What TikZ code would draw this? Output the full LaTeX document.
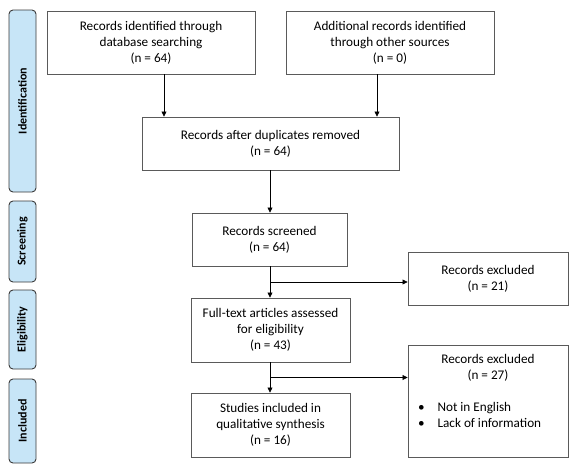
\documentclass[tikz,border=0pt]{standalone}
\usepackage{fontspec}
\setmainfont{Carlito}
\usepackage{tikz}
\usetikzlibrary{arrows.meta,positioning,calc}
\definecolor{stagefill}{HTML}{C7E5F7}
\definecolor{stageline}{HTML}{3A3A3A}
\definecolor{boxline}{HTML}{5A5A5A}

\begin{document}
\begin{tikzpicture}[x=1pt,y=-1pt,
  box/.style={rectangle,draw=boxline,line width=0.9pt,fill=white,align=center,
              inner sep=2pt,font=\fontsize{13.2}{16}\selectfont},
  stage/.style={rectangle,rounded corners=4pt,draw=stageline,line width=0.9pt,
                fill=stagefill,rotate=90,minimum height=27pt,inner sep=1pt,
                font=\fontsize{12}{14}\selectfont\bfseries},
  arr/.style={-{Triangle[length=5pt,width=5pt]},line width=0.7pt,draw=black},
  link/.style={line width=0.7pt,draw=black}
]
\useasboundingbox (0,0) rectangle (578,474);

% stages
\node[stage,minimum width=182pt] (sId)  at (22.5,101)   {Identification};
\node[stage,minimum width=81pt]  (sScr) at (22.5,241.5) {Screening};
\node[stage,minimum width=79pt]  (sEl)  at (22.5,329.5) {Eligibility};
\node[stage,minimum width=84pt]  (sInc) at (22.5,421)   {Included};

% flow
\node[box,minimum width=208pt,minimum height=63pt] (db)   at (151,42.5)  {Records identified through\\database searching\\(n = 64)};
\node[box,minimum width=208pt,minimum height=63pt] (other) at (390,42.5) {Additional records identified\\through other sources\\(n = 0)};
\node[box,minimum width=257pt,minimum height=53pt] (dup)  at (270.5,143.5) {Records after duplicates removed\\(n = 64)};
\node[box,minimum width=155pt,minimum height=53pt] (scr)  at (269.5,239.5) {Records screened\\(n = 64)};
\node[box,minimum width=159pt,minimum height=64pt] (full) at (270.5,330)  {Full-text articles assessed\\for eligibility\\(n = 43)};
\node[box,minimum width=159pt,minimum height=64pt] (incl) at (270.5,425)  {Studies included in\\qualitative synthesis\\(n = 16)};
\node[box,minimum width=160pt,minimum height=53pt] (exA)  at (488,278.5)  {Records excluded\\(n = 21)};
\node[box,minimum width=160pt,minimum height=112pt] (exB) at (488,401)
  {Records excluded\\(n = 27)\\[16pt]
   \makebox[140pt][l]{\textbullet\hspace{13pt}Not in English}\\
   \makebox[140pt][l]{\textbullet\hspace{13pt}Lack of information}\\[4pt]};

\coordinate (xdb) at (164,0);
\coordinate (xot) at (377,0);
\coordinate (xmid) at (270,0);

\draw[arr] (db.south -| xdb) -- (dup.north -| xdb);
\draw[arr] (other.south -| xot) -- (dup.north -| xot);
\draw[arr] (dup.south -| xmid) -- (scr.north -| xmid);
\draw[arr] (scr.south -| xmid) -- (full.north -| xmid);
\draw[arr] (full.south -| xmid) -- (incl.north -| xmid);

\coordinate (j1) at ($(scr.south -| xmid)!0.5!(full.north -| xmid)$);
\coordinate (j2) at ($(full.south -| xmid)!0.5!(incl.north -| xmid)$);
\draw[arr] (j1) -- (j1 -| exA.west);
\draw[arr] (j2) -- (j2 -| exB.west);
\end{tikzpicture}
\end{document}
